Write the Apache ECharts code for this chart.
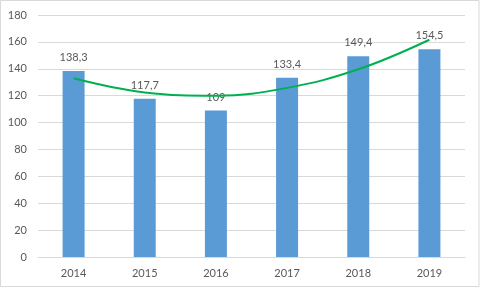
<!DOCTYPE html>
<html>
<head>
<meta charset="utf-8">
<script src="https://cdn.jsdelivr.net/npm/echarts@6/dist/echarts.min.js"></script>
<style>
  html, body { margin: 0; padding: 0; background: #fff; }
  #chart { width: 482px; height: 290px; }
</style>
</head>
<body>
<div id="chart"></div>
<script>
const years = ['2014', '2015', '2016', '2017', '2018', '2019']
const values = [138.3, 117.7, 109, 133.4, 149.4, 154.5]
// green trend curve at each year
const trendValues = [132.9, 122.4, 120.0, 125.8, 139.6, 161.6]
const yTicks = { min: 0, max: 180, step: 20 }

const chart = echarts.init(document.getElementById('chart'))
const textColor = '#595959'
const font = 'Lato, "Liberation Sans", sans-serif'

chart.setOption({
  animation: false,
  backgroundColor: '#fff',
  graphic: [{
    type: 'rect',
    shape: { x: 0.5, y: 0.5, width: 478.5, height: 286 },
    style: { fill: 'none', stroke: '#D9D9D9', lineWidth: 1 },
    silent: true
  }],
  grid: { left: 38, right: 17, top: 15, bottom: 33 },
  xAxis: {
    type: 'category',
    data: years,
    axisLine: { lineStyle: { color: '#D9D9D9' } },
    axisTick: { show: false },
    axisLabel: { color: textColor, fontSize: 11, fontFamily: font, margin: 11 }
  },
  yAxis: {
    type: 'value',
    min: yTicks.min,
    max: yTicks.max,
    interval: yTicks.step,
    axisLine: { show: false },
    axisTick: { show: false },
    splitLine: { lineStyle: { color: '#D9D9D9' } },
    axisLabel: { color: textColor, fontSize: 11, fontFamily: font, margin: 11 }
  },
  series: [
    {
      type: 'bar',
      data: values,
      barWidth: 22,
      itemStyle: { color: '#5B9BD5' },
      label: {
        show: true,
        position: 'top',
        distance: 8,
        color: textColor,
        fontSize: 11,
        fontFamily: font,
        formatter: p => String(p.value).replace('.', ',')
      }
    },
    {
      type: 'line',
      data: trendValues,
      smooth: 0.4,
      symbol: 'none',
      lineStyle: { color: '#00B050', width: 2 },
      z: 5
    }
  ]
})
</script>
</body>
</html>
